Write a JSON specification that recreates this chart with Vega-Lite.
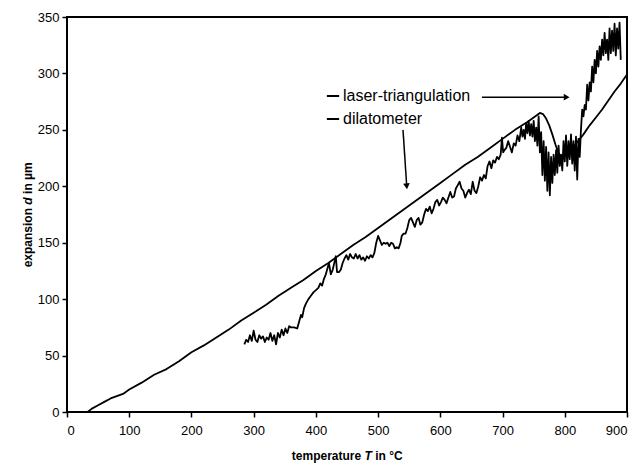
{
  "$schema": "https://vega.github.io/schema/vega-lite/v6.json",
  "width": 560,
  "height": 395,
  "autosize": "none",
  "padding": {"left": 67, "top": 17, "right": 12, "bottom": 54},
  "background": "white",
  "config": {
    "font": "Liberation Sans",
    "view": {"stroke": "black", "strokeWidth": 2},
    "axis": {"domain": false, "grid": false, "tickColor": "black", "tickWidth": 1.5, "tickSize": 5, "labelColor": "black", "labelFontSize": 13, "titleColor": "black"},
    "text": {"font": "Liberation Sans", "fontSize": 12, "fontWeight": "bold", "color": "black", "baseline": "middle"}
  },
  "datasets": {
    "lines": [
      {"series": "dilatometer", "T": 33, "d": 0}, {"series": "dilatometer", "T": 40, "d": 3}, {"series": "dilatometer", "T": 50, "d": 6}, {"series": "dilatometer", "T": 60, "d": 9}, {"series": "dilatometer", "T": 70, "d": 12}, {"series": "dilatometer", "T": 80, "d": 14}, {"series": "dilatometer", "T": 90, "d": 16}, {"series": "dilatometer", "T": 100, "d": 20}, {"series": "dilatometer", "T": 120, "d": 26}, {"series": "dilatometer", "T": 140, "d": 33}, {"series": "dilatometer", "T": 160, "d": 38}, {"series": "dilatometer", "T": 180, "d": 45}, {"series": "dilatometer", "T": 200, "d": 53}, {"series": "dilatometer", "T": 220, "d": 59}, {"series": "dilatometer", "T": 240, "d": 66}, {"series": "dilatometer", "T": 260, "d": 73}, {"series": "dilatometer", "T": 280, "d": 81}, {"series": "dilatometer", "T": 300, "d": 88}, {"series": "dilatometer", "T": 320, "d": 95}, {"series": "dilatometer", "T": 340, "d": 103}, {"series": "dilatometer", "T": 360, "d": 110}, {"series": "dilatometer", "T": 380, "d": 117}, {"series": "dilatometer", "T": 400, "d": 125}, {"series": "dilatometer", "T": 420, "d": 132}, {"series": "dilatometer", "T": 440, "d": 140}, {"series": "dilatometer", "T": 460, "d": 148}, {"series": "dilatometer", "T": 480, "d": 155}, {"series": "dilatometer", "T": 500, "d": 163}, {"series": "dilatometer", "T": 520, "d": 171}, {"series": "dilatometer", "T": 540, "d": 179}, {"series": "dilatometer", "T": 560, "d": 187}, {"series": "dilatometer", "T": 580, "d": 195}, {"series": "dilatometer", "T": 600, "d": 203}, {"series": "dilatometer", "T": 620, "d": 211}, {"series": "dilatometer", "T": 640, "d": 219}, {"series": "dilatometer", "T": 660, "d": 226}, {"series": "dilatometer", "T": 680, "d": 234}, {"series": "dilatometer", "T": 700, "d": 242}, {"series": "dilatometer", "T": 720, "d": 250}, {"series": "dilatometer", "T": 740, "d": 257}, {"series": "dilatometer", "T": 760, "d": 265}, {"series": "dilatometer", "T": 765, "d": 264}, {"series": "dilatometer", "T": 770, "d": 260}, {"series": "dilatometer", "T": 775, "d": 254}, {"series": "dilatometer", "T": 780, "d": 246}, {"series": "dilatometer", "T": 785, "d": 237}, {"series": "dilatometer", "T": 790, "d": 229}, {"series": "dilatometer", "T": 795, "d": 226}, {"series": "dilatometer", "T": 800, "d": 227}, {"series": "dilatometer", "T": 810, "d": 232}, {"series": "dilatometer", "T": 820, "d": 239}, {"series": "dilatometer", "T": 830, "d": 246}, {"series": "dilatometer", "T": 840, "d": 254}, {"series": "dilatometer", "T": 850, "d": 261}, {"series": "dilatometer", "T": 860, "d": 268}, {"series": "dilatometer", "T": 870, "d": 276}, {"series": "dilatometer", "T": 880, "d": 284}, {"series": "dilatometer", "T": 890, "d": 291}, {"series": "dilatometer", "T": 900, "d": 299},
      {"series": "laser-triangulation", "T": 285, "d": 60}, {"series": "laser-triangulation", "T": 288, "d": 64}, {"series": "laser-triangulation", "T": 291, "d": 62}, {"series": "laser-triangulation", "T": 294, "d": 68}, {"series": "laser-triangulation", "T": 297, "d": 63}, {"series": "laser-triangulation", "T": 300, "d": 72}, {"series": "laser-triangulation", "T": 303, "d": 64}, {"series": "laser-triangulation", "T": 306, "d": 62}, {"series": "laser-triangulation", "T": 309, "d": 68}, {"series": "laser-triangulation", "T": 312, "d": 65}, {"series": "laser-triangulation", "T": 315, "d": 67}, {"series": "laser-triangulation", "T": 318, "d": 62}, {"series": "laser-triangulation", "T": 321, "d": 66}, {"series": "laser-triangulation", "T": 324, "d": 64}, {"series": "laser-triangulation", "T": 327, "d": 70}, {"series": "laser-triangulation", "T": 330, "d": 63}, {"series": "laser-triangulation", "T": 333, "d": 68}, {"series": "laser-triangulation", "T": 336, "d": 60}, {"series": "laser-triangulation", "T": 339, "d": 70}, {"series": "laser-triangulation", "T": 342, "d": 66}, {"series": "laser-triangulation", "T": 345, "d": 73}, {"series": "laser-triangulation", "T": 348, "d": 68}, {"series": "laser-triangulation", "T": 351, "d": 74}, {"series": "laser-triangulation", "T": 354, "d": 70}, {"series": "laser-triangulation", "T": 357, "d": 76}, {"series": "laser-triangulation", "T": 360, "d": 75}, {"series": "laser-triangulation", "T": 365, "d": 75}, {"series": "laser-triangulation", "T": 370, "d": 74}, {"series": "laser-triangulation", "T": 373, "d": 80}, {"series": "laser-triangulation", "T": 376, "d": 86}, {"series": "laser-triangulation", "T": 378, "d": 84}, {"series": "laser-triangulation", "T": 381, "d": 92}, {"series": "laser-triangulation", "T": 384, "d": 96}, {"series": "laser-triangulation", "T": 388, "d": 100}, {"series": "laser-triangulation", "T": 392, "d": 103}, {"series": "laser-triangulation", "T": 396, "d": 106}, {"series": "laser-triangulation", "T": 400, "d": 108}, {"series": "laser-triangulation", "T": 404, "d": 110}, {"series": "laser-triangulation", "T": 407, "d": 114}, {"series": "laser-triangulation", "T": 410, "d": 112}, {"series": "laser-triangulation", "T": 413, "d": 118}, {"series": "laser-triangulation", "T": 416, "d": 122}, {"series": "laser-triangulation", "T": 419, "d": 128}, {"series": "laser-triangulation", "T": 421, "d": 132}, {"series": "laser-triangulation", "T": 424, "d": 122}, {"series": "laser-triangulation", "T": 427, "d": 126}, {"series": "laser-triangulation", "T": 430, "d": 133}, {"series": "laser-triangulation", "T": 432, "d": 138}, {"series": "laser-triangulation", "T": 434, "d": 124}, {"series": "laser-triangulation", "T": 437, "d": 124}, {"series": "laser-triangulation", "T": 440, "d": 126}, {"series": "laser-triangulation", "T": 443, "d": 132}, {"series": "laser-triangulation", "T": 446, "d": 136}, {"series": "laser-triangulation", "T": 449, "d": 139}, {"series": "laser-triangulation", "T": 452, "d": 135}, {"series": "laser-triangulation", "T": 455, "d": 140}, {"series": "laser-triangulation", "T": 458, "d": 137}, {"series": "laser-triangulation", "T": 461, "d": 136}, {"series": "laser-triangulation", "T": 464, "d": 140}, {"series": "laser-triangulation", "T": 467, "d": 136}, {"series": "laser-triangulation", "T": 470, "d": 139}, {"series": "laser-triangulation", "T": 473, "d": 135}, {"series": "laser-triangulation", "T": 476, "d": 137}, {"series": "laser-triangulation", "T": 479, "d": 134}, {"series": "laser-triangulation", "T": 482, "d": 138}, {"series": "laser-triangulation", "T": 485, "d": 136}, {"series": "laser-triangulation", "T": 488, "d": 139}, {"series": "laser-triangulation", "T": 491, "d": 137}, {"series": "laser-triangulation", "T": 494, "d": 141}, {"series": "laser-triangulation", "T": 497, "d": 150}, {"series": "laser-triangulation", "T": 500, "d": 156}, {"series": "laser-triangulation", "T": 503, "d": 152}, {"series": "laser-triangulation", "T": 506, "d": 148}, {"series": "laser-triangulation", "T": 509, "d": 150}, {"series": "laser-triangulation", "T": 512, "d": 149}, {"series": "laser-triangulation", "T": 515, "d": 150}, {"series": "laser-triangulation", "T": 518, "d": 147}, {"series": "laser-triangulation", "T": 521, "d": 150}, {"series": "laser-triangulation", "T": 524, "d": 149}, {"series": "laser-triangulation", "T": 527, "d": 145}, {"series": "laser-triangulation", "T": 530, "d": 146}, {"series": "laser-triangulation", "T": 533, "d": 145}, {"series": "laser-triangulation", "T": 536, "d": 150}, {"series": "laser-triangulation", "T": 538, "d": 156}, {"series": "laser-triangulation", "T": 541, "d": 158}, {"series": "laser-triangulation", "T": 544, "d": 158}, {"series": "laser-triangulation", "T": 547, "d": 163}, {"series": "laser-triangulation", "T": 550, "d": 170}, {"series": "laser-triangulation", "T": 553, "d": 172}, {"series": "laser-triangulation", "T": 556, "d": 168}, {"series": "laser-triangulation", "T": 559, "d": 164}, {"series": "laser-triangulation", "T": 562, "d": 170}, {"series": "laser-triangulation", "T": 565, "d": 172}, {"series": "laser-triangulation", "T": 568, "d": 166}, {"series": "laser-triangulation", "T": 571, "d": 168}, {"series": "laser-triangulation", "T": 574, "d": 175}, {"series": "laser-triangulation", "T": 577, "d": 180}, {"series": "laser-triangulation", "T": 580, "d": 178}, {"series": "laser-triangulation", "T": 583, "d": 182}, {"series": "laser-triangulation", "T": 586, "d": 176}, {"series": "laser-triangulation", "T": 589, "d": 180}, {"series": "laser-triangulation", "T": 592, "d": 186}, {"series": "laser-triangulation", "T": 595, "d": 188}, {"series": "laser-triangulation", "T": 598, "d": 183}, {"series": "laser-triangulation", "T": 601, "d": 186}, {"series": "laser-triangulation", "T": 604, "d": 190}, {"series": "laser-triangulation", "T": 607, "d": 188}, {"series": "laser-triangulation", "T": 610, "d": 185}, {"series": "laser-triangulation", "T": 613, "d": 190}, {"series": "laser-triangulation", "T": 616, "d": 195}, {"series": "laser-triangulation", "T": 619, "d": 190}, {"series": "laser-triangulation", "T": 622, "d": 191}, {"series": "laser-triangulation", "T": 625, "d": 198}, {"series": "laser-triangulation", "T": 628, "d": 201}, {"series": "laser-triangulation", "T": 631, "d": 204}, {"series": "laser-triangulation", "T": 634, "d": 198}, {"series": "laser-triangulation", "T": 637, "d": 196}, {"series": "laser-triangulation", "T": 640, "d": 190}, {"series": "laser-triangulation", "T": 643, "d": 194}, {"series": "laser-triangulation", "T": 646, "d": 197}, {"series": "laser-triangulation", "T": 649, "d": 193}, {"series": "laser-triangulation", "T": 652, "d": 204}, {"series": "laser-triangulation", "T": 655, "d": 196}, {"series": "laser-triangulation", "T": 658, "d": 194}, {"series": "laser-triangulation", "T": 661, "d": 200}, {"series": "laser-triangulation", "T": 664, "d": 208}, {"series": "laser-triangulation", "T": 667, "d": 205}, {"series": "laser-triangulation", "T": 670, "d": 210}, {"series": "laser-triangulation", "T": 673, "d": 207}, {"series": "laser-triangulation", "T": 676, "d": 218}, {"series": "laser-triangulation", "T": 679, "d": 222}, {"series": "laser-triangulation", "T": 682, "d": 216}, {"series": "laser-triangulation", "T": 685, "d": 223}, {"series": "laser-triangulation", "T": 688, "d": 221}, {"series": "laser-triangulation", "T": 691, "d": 226}, {"series": "laser-triangulation", "T": 694, "d": 224}, {"series": "laser-triangulation", "T": 697, "d": 228}, {"series": "laser-triangulation", "T": 699, "d": 243}, {"series": "laser-triangulation", "T": 701, "d": 230}, {"series": "laser-triangulation", "T": 703, "d": 232}, {"series": "laser-triangulation", "T": 706, "d": 234}, {"series": "laser-triangulation", "T": 709, "d": 240}, {"series": "laser-triangulation", "T": 712, "d": 235}, {"series": "laser-triangulation", "T": 715, "d": 230}, {"series": "laser-triangulation", "T": 718, "d": 238}, {"series": "laser-triangulation", "T": 721, "d": 236}, {"series": "laser-triangulation", "T": 724, "d": 245}, {"series": "laser-triangulation", "T": 727, "d": 240}, {"series": "laser-triangulation", "T": 730, "d": 252}, {"series": "laser-triangulation", "T": 732, "d": 244}, {"series": "laser-triangulation", "T": 734, "d": 250}, {"series": "laser-triangulation", "T": 736, "d": 242}, {"series": "laser-triangulation", "T": 738, "d": 256}, {"series": "laser-triangulation", "T": 740, "d": 247}, {"series": "laser-triangulation", "T": 742, "d": 258}, {"series": "laser-triangulation", "T": 744, "d": 245}, {"series": "laser-triangulation", "T": 746, "d": 255}, {"series": "laser-triangulation", "T": 748, "d": 244}, {"series": "laser-triangulation", "T": 750, "d": 258}, {"series": "laser-triangulation", "T": 752, "d": 240}, {"series": "laser-triangulation", "T": 754, "d": 252}, {"series": "laser-triangulation", "T": 756, "d": 236}, {"series": "laser-triangulation", "T": 758, "d": 262}, {"series": "laser-triangulation", "T": 760, "d": 230}, {"series": "laser-triangulation", "T": 762, "d": 248}, {"series": "laser-triangulation", "T": 764, "d": 210}, {"series": "laser-triangulation", "T": 766, "d": 240}, {"series": "laser-triangulation", "T": 768, "d": 205}, {"series": "laser-triangulation", "T": 770, "d": 235}, {"series": "laser-triangulation", "T": 772, "d": 196}, {"series": "laser-triangulation", "T": 774, "d": 230}, {"series": "laser-triangulation", "T": 776, "d": 192}, {"series": "laser-triangulation", "T": 778, "d": 226}, {"series": "laser-triangulation", "T": 780, "d": 203}, {"series": "laser-triangulation", "T": 782, "d": 228}, {"series": "laser-triangulation", "T": 784, "d": 210}, {"series": "laser-triangulation", "T": 786, "d": 232}, {"series": "laser-triangulation", "T": 788, "d": 212}, {"series": "laser-triangulation", "T": 790, "d": 236}, {"series": "laser-triangulation", "T": 792, "d": 218}, {"series": "laser-triangulation", "T": 794, "d": 228}, {"series": "laser-triangulation", "T": 796, "d": 214}, {"series": "laser-triangulation", "T": 798, "d": 240}, {"series": "laser-triangulation", "T": 800, "d": 222}, {"series": "laser-triangulation", "T": 802, "d": 245}, {"series": "laser-triangulation", "T": 804, "d": 218}, {"series": "laser-triangulation", "T": 806, "d": 240}, {"series": "laser-triangulation", "T": 808, "d": 224}, {"series": "laser-triangulation", "T": 810, "d": 246}, {"series": "laser-triangulation", "T": 812, "d": 220}, {"series": "laser-triangulation", "T": 814, "d": 240}, {"series": "laser-triangulation", "T": 816, "d": 214}, {"series": "laser-triangulation", "T": 818, "d": 244}, {"series": "laser-triangulation", "T": 820, "d": 206}, {"series": "laser-triangulation", "T": 822, "d": 242}, {"series": "laser-triangulation", "T": 824, "d": 226}, {"series": "laser-triangulation", "T": 826, "d": 250}, {"series": "laser-triangulation", "T": 828, "d": 268}, {"series": "laser-triangulation", "T": 830, "d": 262}, {"series": "laser-triangulation", "T": 832, "d": 272}, {"series": "laser-triangulation", "T": 834, "d": 268}, {"series": "laser-triangulation", "T": 836, "d": 290}, {"series": "laser-triangulation", "T": 838, "d": 276}, {"series": "laser-triangulation", "T": 840, "d": 292}, {"series": "laser-triangulation", "T": 842, "d": 284}, {"series": "laser-triangulation", "T": 844, "d": 306}, {"series": "laser-triangulation", "T": 846, "d": 292}, {"series": "laser-triangulation", "T": 848, "d": 312}, {"series": "laser-triangulation", "T": 850, "d": 300}, {"series": "laser-triangulation", "T": 852, "d": 320}, {"series": "laser-triangulation", "T": 854, "d": 306}, {"series": "laser-triangulation", "T": 856, "d": 324}, {"series": "laser-triangulation", "T": 858, "d": 312}, {"series": "laser-triangulation", "T": 860, "d": 330}, {"series": "laser-triangulation", "T": 862, "d": 316}, {"series": "laser-triangulation", "T": 864, "d": 336}, {"series": "laser-triangulation", "T": 866, "d": 318}, {"series": "laser-triangulation", "T": 868, "d": 330}, {"series": "laser-triangulation", "T": 870, "d": 312}, {"series": "laser-triangulation", "T": 872, "d": 340}, {"series": "laser-triangulation", "T": 874, "d": 318}, {"series": "laser-triangulation", "T": 876, "d": 338}, {"series": "laser-triangulation", "T": 878, "d": 320}, {"series": "laser-triangulation", "T": 880, "d": 344}, {"series": "laser-triangulation", "T": 882, "d": 316}, {"series": "laser-triangulation", "T": 884, "d": 340}, {"series": "laser-triangulation", "T": 886, "d": 322}, {"series": "laser-triangulation", "T": 888, "d": 345}, {"series": "laser-triangulation", "T": 890, "d": 312}
    ],
    "arrows": [
      {"T": 667, "d": 279, "T2": 803, "d2": 279, "head": "triangle-right", "angle": 0},
      {"T": 540, "d": 250, "T2": 546, "d2": 200, "head": "triangle-down", "angle": 354}
    ]
  },
  "layer": [
    {
      "data": {"name": "lines"},
      "mark": {"type": "line", "strokeWidth": 1.8, "strokeJoin": "round"},
      "encoding": {
        "x": {"field": "T", "type": "quantitative", "scale": {"domain": [0, 900], "nice": false}, "axis": {"values": [0, 100, 200, 300, 400, 500, 600, 700, 800, 900], "title": null, "labelPadding": 7}},
        "y": {"field": "d", "type": "quantitative", "scale": {"domain": [0, 350], "nice": false}, "axis": {"values": [0, 50, 100, 150, 200, 250, 300, 350], "title": null, "labelPadding": 3}},
        "color": {"field": "series", "type": "nominal", "scale": {"domain": ["laser-triangulation", "dilatometer"], "range": ["black", "black"]}, "legend": {"orient": "none", "legendX": 258, "legendY": 71, "title": null, "symbolType": "stroke", "symbolSize": 150, "symbolStrokeWidth": 2, "labelFontSize": 16, "labelColor": "black", "rowPadding": 7, "labelOffset": 2}},
        "detail": {"field": "series"}
      }
    },
    {
      "data": {"name": "arrows"},
      "mark": {"type": "rule", "color": "black", "strokeWidth": 1.5},
      "encoding": {
        "x": {"field": "T", "type": "quantitative"},
        "y": {"field": "d", "type": "quantitative"},
        "x2": {"field": "T2"},
        "y2": {"field": "d2"}
      }
    },
    {
      "data": {"name": "arrows"},
      "mark": {"type": "point", "filled": true, "color": "black", "size": 45, "opacity": 1},
      "encoding": {
        "x": {"field": "T2", "type": "quantitative"},
        "y": {"field": "d2", "type": "quantitative"},
        "shape": {"field": "head", "type": "nominal", "scale": null},
        "angle": {"field": "angle", "type": "quantitative", "scale": null}
      }
    },
    {
      "data": {"values": [{"label": "temperature", "T": 484, "d": -39}]},
      "mark": {"type": "text", "align": "right", "dx": -7},
      "encoding": {"x": {"field": "T", "type": "quantitative"}, "y": {"field": "d", "type": "quantitative"}, "text": {"field": "label"}}
    },
    {
      "data": {"values": [{"label": "T", "T": 484, "d": -39}]},
      "mark": {"type": "text", "align": "center", "fontStyle": "italic"},
      "encoding": {"x": {"field": "T", "type": "quantitative"}, "y": {"field": "d", "type": "quantitative"}, "text": {"field": "label"}}
    },
    {
      "data": {"values": [{"label": "in °C", "T": 484, "d": -39}]},
      "mark": {"type": "text", "align": "left", "dx": 7},
      "encoding": {"x": {"field": "T", "type": "quantitative"}, "y": {"field": "d", "type": "quantitative"}, "text": {"field": "label"}}
    },
    {
      "data": {"values": [{"label": "expansion", "T": -63, "d": 187}]},
      "mark": {"type": "text", "align": "right", "dx": -7, "angle": 270},
      "encoding": {"x": {"field": "T", "type": "quantitative"}, "y": {"field": "d", "type": "quantitative"}, "text": {"field": "label"}}
    },
    {
      "data": {"values": [{"label": "d", "T": -63, "d": 187}]},
      "mark": {"type": "text", "align": "center", "fontStyle": "italic", "angle": 270},
      "encoding": {"x": {"field": "T", "type": "quantitative"}, "y": {"field": "d", "type": "quantitative"}, "text": {"field": "label"}}
    },
    {
      "data": {"values": [{"label": "in µm", "T": -63, "d": 187}]},
      "mark": {"type": "text", "align": "left", "dx": 7, "angle": 270},
      "encoding": {"x": {"field": "T", "type": "quantitative"}, "y": {"field": "d", "type": "quantitative"}, "text": {"field": "label"}}
    }
  ]
}
